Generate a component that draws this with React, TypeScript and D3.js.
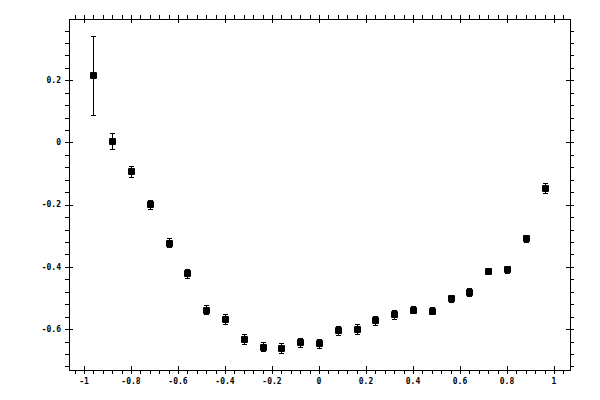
import * as React from 'react';
import * as d3 from 'd3';

// measured points, x every 0.08
const xValues = [
  -0.96, -0.88, -0.8, -0.72, -0.64, -0.56, -0.48, -0.4, -0.32, -0.24, -0.16, -0.08, 0,
  0.08, 0.16, 0.24, 0.32, 0.4, 0.48, 0.56, 0.64, 0.72, 0.8, 0.88, 0.96,
];
const yValues = [
  0.216, 0.005, -0.093, -0.199, -0.322, -0.421, -0.537, -0.568, -0.633, -0.656, -0.662, -0.643, -0.646,
  -0.604, -0.6, -0.572, -0.553, -0.537, -0.541, -0.501, -0.48, -0.413, -0.408, -0.308, -0.147,
];
const yErrors = [
  0.127, 0.026, 0.017, 0.014, 0.015, 0.014, 0.015, 0.015, 0.016, 0.016, 0.016, 0.015, 0.015,
  0.015, 0.015, 0.015, 0.014, 0.012, 0.011, 0.012, 0.012, 0.011, 0.012, 0.012, 0.016,
];

const xMajorTicks = [-1, -0.8, -0.6, -0.4, -0.2, 0, 0.2, 0.4, 0.6, 0.8, 1];
const yMajorTicks = [-0.6, -0.4, -0.2, 0, 0.2];

const WIDTH = 600;
const HEIGHT = 400;
const FRAME = { left: 69, right: 570, top: 19, bottom: 370 };

export default function App() {
  const ref = React.useRef<SVGSVGElement>(null);

  React.useEffect(() => {
    const svgEl = ref.current;
    if (!svgEl) return;
    const svg = d3.select(svgEl);
    svg.selectAll('*').remove();

    const x = d3.scaleLinear().domain([-1.0638, 1.0681]).range([FRAME.left, FRAME.right]);
    const y = d3.scaleLinear().domain([0.397, -0.7315]).range([FRAME.top, FRAME.bottom]);

    const g = svg.append('g').attr('shape-rendering', 'crispEdges');

    // frame
    g.append('rect')
      .attr('x', FRAME.left)
      .attr('y', FRAME.top)
      .attr('width', FRAME.right - FRAME.left)
      .attr('height', FRAME.bottom - FRAME.top)
      .attr('fill', 'none')
      .attr('stroke', '#000')
      .attr('stroke-width', 1);

    // minor ticks every 0.04
    const xMinor = d3.range(-26, 27).map((i) => +(i * 0.04).toFixed(2)).filter((v) => v >= -1.04 && v <= 1.04);
    const yMinor = d3.range(-18, 10).map((i) => +(i * 0.04).toFixed(2)).filter((v) => v >= -0.72 && v <= 0.36);
    const isMajor = (v: number, list: number[]) => list.some((t) => Math.abs(t - v) < 1e-6);

    const out = 4;
    const inn = 4;

    xMinor.forEach((v) => {
      const px = Math.round(x(v)) + 0.5;
      const major = isMajor(v, xMajorTicks);
      g.append('line').attr('x1', px).attr('x2', px)
        .attr('y1', FRAME.bottom + out).attr('y2', FRAME.bottom - (major ? inn : 0))
        .attr('stroke', '#000');
      g.append('line').attr('x1', px).attr('x2', px)
        .attr('y1', FRAME.top - out).attr('y2', FRAME.top + (major ? inn : 0))
        .attr('stroke', '#000');
    });

    yMinor.forEach((v) => {
      const py = Math.round(y(v)) + 0.5;
      const major = isMajor(v, yMajorTicks);
      g.append('line').attr('y1', py).attr('y2', py)
        .attr('x1', FRAME.left - out).attr('x2', FRAME.left + (major ? inn : 0))
        .attr('stroke', '#000');
      g.append('line').attr('y1', py).attr('y2', py)
        .attr('x1', FRAME.right + out).attr('x2', FRAME.right - (major ? inn : 0))
        .attr('stroke', '#000');
    });

    const fmt = (v: number) => (v < 0 ? '-' : '') + String(Math.abs(v));

    // tick labels
    svg.append('g')
      .selectAll('text')
      .data(xMajorTicks)
      .enter()
      .append('text')
      .attr('x', (d) => x(d))
      .attr('y', 384)
      .attr('text-anchor', 'middle')
      .style('font-family', '"DejaVu Sans Mono", monospace')
      .style('font-size', '8px')
      .style('font-weight', 'bold')
      .text((d) => fmt(d));

    svg.append('g')
      .selectAll('text')
      .data(yMajorTicks)
      .enter()
      .append('text')
      .attr('x', 61)
      .attr('y', (d) => y(d))
      .attr('dy', '0.35em')
      .attr('text-anchor', 'end')
      .style('font-family', '"DejaVu Sans Mono", monospace')
      .style('font-size', '8px')
      .style('font-weight', 'bold')
      .text((d) => fmt(d));

    // error bars
    const pts = xValues.map((xv, i) => ({ x: xv, y: yValues[i], e: yErrors[i] }));
    const eb = svg.append('g').attr('stroke', '#000').attr('stroke-width', 1).attr('shape-rendering', 'crispEdges');
    pts.forEach((p) => {
      const px = Math.round(x(p.x)) + 0.5;
      const top = Math.round(y(p.y + p.e)) + 0.5;
      const bot = Math.round(y(p.y - p.e)) + 0.5;
      eb.append('line').attr('x1', px).attr('x2', px).attr('y1', top).attr('y2', bot);
      eb.append('line').attr('x1', px - 2.5).attr('x2', px + 2.5).attr('y1', top).attr('y2', top);
      eb.append('line').attr('x1', px - 2.5).attr('x2', px + 2.5).attr('y1', bot).attr('y2', bot);
    });

    // markers
    svg.append('g')
      .selectAll('rect')
      .data(pts)
      .enter()
      .append('rect')
      .attr('x', (d) => Math.round(x(d.x)) - 3)
      .attr('y', (d) => Math.round(y(d.y)) - 3)
      .attr('width', 7)
      .attr('height', 7)
      .attr('rx', 1)
      .attr('fill', '#000');
  }, []);

  return (
    <svg
      ref={ref}
      width={WIDTH}
      height={HEIGHT}
      style={{ position: 'absolute', left: 0, top: 0, background: '#fff' }}
    />
  );
}
